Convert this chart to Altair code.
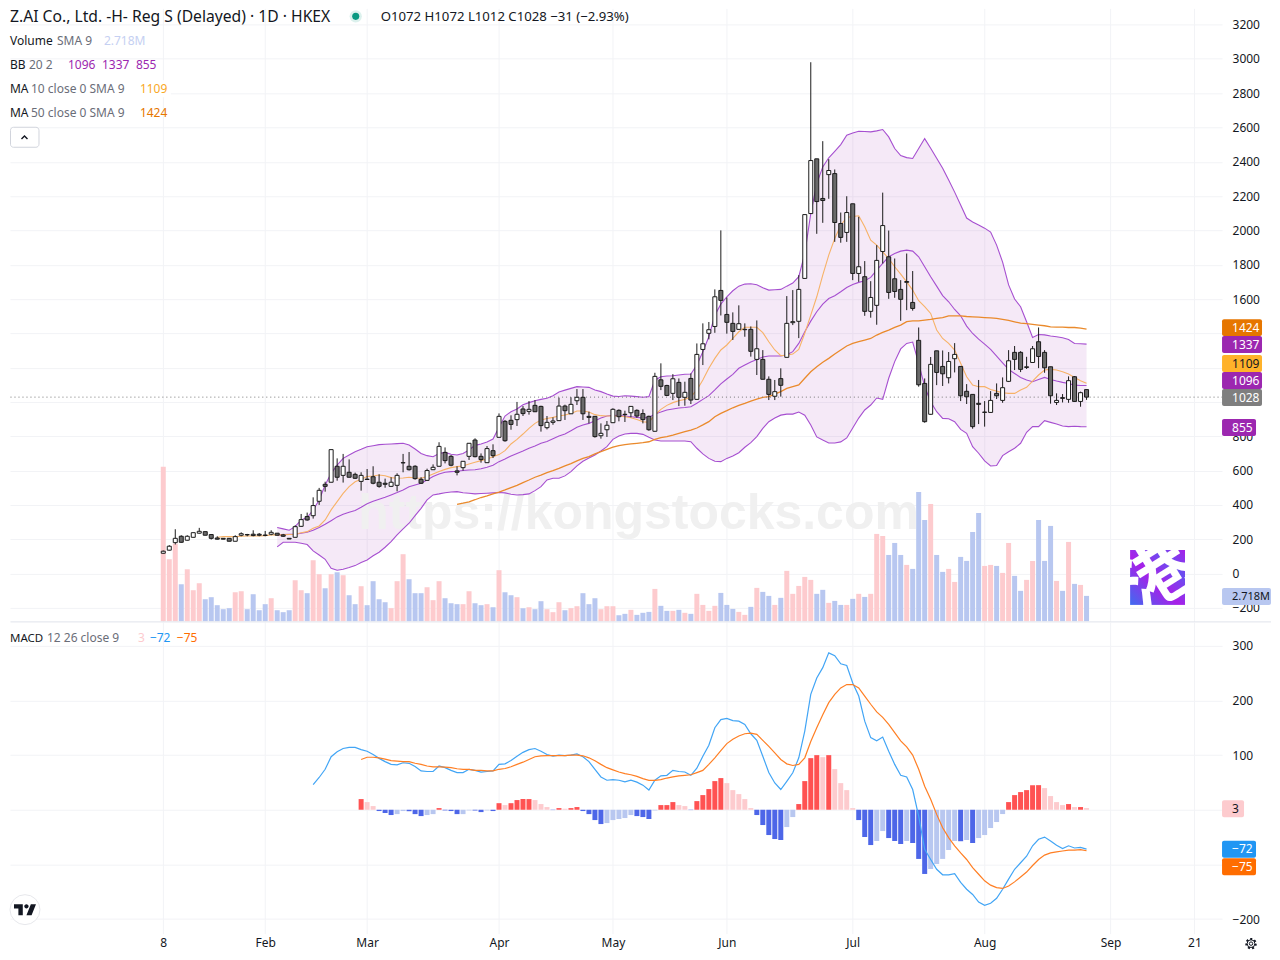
import altair as alt
import pandas as pd
from urllib.parse import quote

opens = [118,136,180,217,194,211,235,244,227,207,205,205,188,223,227,229,229,224,229,235,225,205,211,275,332,337,421,520,532,625,572,590,578,537,550,564,532,526,508,514,645,625,625,549,543,605,625,706,683,598,617,683,778,683,646,716,794,887,893,897,959,945,980,974,850,881,891,976,931,1007,1027,916,916,803,838,879,951,928,937,951,932,916,829,1129,1096,1050,1114,1027,1137,1015,1306,1400,1440,1650,1510,1458,1423,1421,1423,1248,1248,1132,1033,1136,1260,1462,1470,1720,2098,2417,2186,2325,2331,2040,1988,2155,1749,1730,1528,1563,1877,1846,1718,1656,1697,1580,1359,1108,928,1298,1207,1141,1252,1207,1062,1044,992,939,939,1050,1009,1120,1289,1289,1201,1230,1351,1289,1205,997,1025,1015,1147,1003,1072]
highs = [134,165,258,223,223,238,266,244,229,217,205,205,223,240,231,252,236,248,252,235,231,205,281,347,355,444,499,535,722,671,697,665,588,590,609,625,578,553,561,584,697,708,631,561,611,636,765,735,691,625,654,759,788,700,743,753,933,895,922,1000,976,1005,1011,978,918,910,1025,984,1027,1075,1075,943,918,875,889,963,957,949,974,957,957,920,1170,1225,1100,1162,1137,1118,1166,1341,1458,1466,1656,2000,1609,1522,1563,1458,1440,1475,1302,1149,1128,1196,1617,1652,1739,2092,2980,2417,2520,2415,2355,2104,2199,2155,2079,1821,1704,1914,2220,1999,1836,1710,1865,1763,1434,1137,1262,1298,1300,1291,1343,1207,1104,1044,1128,1005,1063,1108,1143,1302,1326,1296,1263,1326,1434,1302,1205,1050,1046,1149,1151,1060,1072]
lows = [116,134,169,180,192,211,233,223,198,198,200,188,188,217,217,217,217,217,223,223,213,201,211,271,308,320,400,477,532,541,530,561,551,483,548,520,500,500,504,479,590,600,547,522,541,603,623,642,625,572,600,662,677,646,644,673,792,768,838,860,918,926,941,827,840,867,889,895,930,982,895,875,792,786,796,877,887,883,910,908,875,832,827,1069,1034,1011,976,978,988,1013,1215,1365,1403,1504,1398,1361,1423,1380,1264,1157,1132,1011,1011,1031,1260,1448,1372,1720,2098,1980,2044,2184,1933,1928,1933,1710,1700,1502,1491,1450,1807,1601,1607,1473,1535,1532,1089,879,926,1098,1093,1108,1172,1005,988,844,871,856,939,1017,995,1116,1186,1174,1192,1228,1197,1170,990,982,997,995,1001,972,1012]
closes = [130,159,205,182,217,238,246,223,205,200,200,188,215,232,225,221,223,222,240,223,217,201,273,314,312,396,485,508,722,561,625,561,555,572,548,526,508,520,532,572,646,605,553,526,600,619,741,658,631,590,654,759,681,664,728,687,916,774,869,928,932,957,943,862,881,889,976,949,986,1027,931,910,798,817,864,957,914,926,974,918,897,838,1149,1091,1038,1135,1027,1056,1011,1277,1339,1421,1613,1592,1464,1411,1456,1423,1295,1310,1132,1044,1060,1097,1458,1468,1656,2092,2407,2168,2174,2349,2046,1959,2104,1749,1788,1528,1609,1825,2028,1638,1644,1598,1702,1545,1100,885,1219,1172,1164,1236,1277,1036,1030,856,986,941,1009,1036,1083,1240,1248,1190,1205,1310,1265,1199,1036,1009,1021,1124,1003,1054,1028]
volumes = [16.6,6.66,8.34,3.97,5.58,3.33,4.08,2.36,2.58,1.72,1.29,1.40,3.11,3.22,1.29,2.90,1.18,1.83,2.47,1.18,0.97,1.18,4.40,3.33,3.01,6.55,5.05,3.54,5.05,5.26,4.94,2.79,1.83,3.76,1.72,4.30,2.36,2.04,1.40,4.30,7.20,4.51,3.01,3.01,3.65,2.26,4.30,2.47,1.93,1.83,1.83,3.22,1.93,1.72,1.83,1.50,5.48,3.11,2.79,2.58,1.40,1.50,1.29,2.15,1.29,0.97,2.04,1.18,1.40,1.61,3.01,1.83,2.47,1.29,1.61,1.61,0.64,0.79,1.22,0.68,0.90,1.00,3.47,1.65,1.11,1.11,1.22,0.90,0.79,2.94,1.75,1.11,1.65,3.04,1.75,1.32,1.00,0.68,1.54,3.58,3.15,2.72,1.75,2.51,5.41,2.94,3.79,4.76,4.44,2.94,3.37,1.97,2.18,1.75,1.75,2.40,2.94,2.61,2.94,9.38,9.16,7.12,8.41,7.12,6.05,5.62,13.89,10.88,12.60,7.12,5.30,5.62,4.22,6.91,6.48,9.59,11.63,5.94,6.05,5.94,5.19,8.41,4.87,3.26,4.44,6.48,10.88,6.48,10.24,4.33,3.26,8.52,4.01,3.90,2.72]

bb_start = 19
bb_upper = [268,260,252,273,312,326,370,429,516,584,632,671,691,710,724,739,745,751,753,755,757,759,749,726,700,687,681,700,706,695,691,700,720,747,755,767,784,852,918,943,959,984,996,1007,1015,1021,1036,1058,1069,1079,1089,1087,1085,1069,1060,1046,1034,1032,1036,1034,1031,1027,1031,1127,1147,1151,1153,1157,1161,1163,1215,1293,1380,1506,1570,1613,1648,1675,1687,1689,1683,1666,1652,1654,1656,1675,1693,1730,1865,2098,2273,2370,2423,2461,2500,2555,2568,2578,2576,2574,2580,2588,2545,2477,2436,2424,2419,2477,2535,2479,2420,2362,2293,2223,2148,2072,2049,2031,2013,1990,1914,1815,1682,1600,1555,1467,1376,1393,1391,1384,1380,1374,1364,1341,1339,1337]
bb_basis = [225,227,229,229,235,240,252,268,287,308,330,345,357,367,386,407,421,433,444,458,472,487,506,516,526,545,565,580,590,594,596,600,603,605,611,619,631,652,668,685,700,714,730,743,759,770,786,801,813,832,852,866,875,891,906,918,922,920,918,914,910,906,910,930,941,953,959,965,968,972,992,1015,1037,1070,1105,1134,1161,1196,1215,1233,1248,1262,1268,1268,1268,1275,1293,1341,1409,1471,1526,1570,1603,1619,1642,1667,1685,1697,1706,1726,1768,1807,1846,1865,1879,1885,1879,1846,1788,1730,1675,1620,1584,1539,1502,1442,1399,1366,1337,1306,1267,1228,1190,1166,1143,1128,1118,1131,1143,1131,1122,1114,1108,1098,1096,1096]
bb_lower = [155,182,182,182,176,169,132,108,83,31,19,25,35,46,64,79,103,124,153,186,225,260,293,337,380,429,458,464,471,475,477,471,468,464,466,468,470,472,470,462,458,460,464,483,506,545,555,555,569,594,627,654,673,691,714,739,782,801,813,817,817,811,794,778,772,772,772,772,772,768,730,697,671,654,652,671,685,704,736,763,798,846,885,906,923,929,929,941,923,866,796,778,761,761,767,790,848,906,953,982,1023,1015,1138,1235,1309,1341,1349,1225,1089,1001,943,904,902,885,840,817,739,701,656,627,629,687,710,730,759,823,856,856,891,881,871,860,856,858,856,855]
ma10_start = 9
ma10 = [211,215,215,215,217,219,219,219,221,225,225,225,227,229,238,244,264,277,312,371,419,467,506,535,549,565,568,574,570,559,555,557,561,557,555,565,580,594,607,617,623,627,638,648,658,668,681,693,716,755,782,813,846,875,895,904,910,918,924,933,947,947,941,926,920,918,918,918,914,908,898,885,881,924,957,980,996,1007,1015,1030,1070,1128,1196,1254,1303,1332,1371,1409,1435,1435,1435,1404,1351,1303,1270,1272,1279,1306,1400,1506,1613,1739,1856,1953,2030,2075,2081,2085,2021,1943,1914,1875,1836,1788,1745,1700,1652,1590,1555,1516,1419,1370,1341,1302,1225,1147,1098,1089,1089,1073,1063,1054,1050,1050,1069,1085,1122,1157,1186,1190,1186,1176,1163,1143,1124,1109]
ma50_start = 49
ma50 = [403,410,418,430,443,453,464,475,487,501,514,530,545,561,574,588,600,613,627,640,656,671,681,697,710,724,736,745,751,755,759,763,768,782,792,798,807,817,827,836,848,866,885,914,933,949,966,980,992,1005,1017,1027,1031,1046,1060,1079,1089,1099,1138,1176,1205,1231,1254,1279,1303,1326,1341,1351,1361,1370,1390,1405,1419,1435,1448,1468,1473,1473,1477,1481,1487,1492,1502,1502,1502,1498,1496,1494,1492,1490,1487,1481,1475,1467,1459,1456,1452,1448,1444,1438,1436,1436,1434,1434,1430,1424]

macd_start = 25
macd_line = [46,59,74,97,106,112,114,114,110,107,101,94,88,83,82,86,85,79,71,70,70,80,77,72,68,68,74,72,69,70,71,83,84,90,98,105,110,112,107,101,98,100,99,100,102,97,88,74,60,54,55,54,51,54,50.5,45,36,54,62,63,72,70,69,63,76,98,118,150,165,167,163,162,156,139,127,98,68,49,37,52,67.6,95,144,211,241,260,287,282,267,264,232,208,162,132,126,133,107,83,63,60,37,-11.6,-72.5,-91,-109,-119,-119,-117,-133,-145.5,-155,-169,-175,-171,-162,-145.5,-127,-109,-97,-85,-66,-54,-50,-57,-65,-71,-66,-70,-69,-72]
signal_start = 33
signal_line = [92,96,96,95,92.6,90,89,88,88,85,83,80,78.6,78.6,78,77,75,74,74,72,72,71,71,74,75.5,78.6,83,87,92,97,98.7,99,99,99,99,100,100,98.7,95,89.5,83,77,73,69,66,64,61,57,53.6,53.6,55,58,60,62,63,64,68,72,83,95,108,121,129,135,139,140,138,127,116,104,92,84,81,83,95,125,150,174,196,211,223,229,229,223,208,193,179,169,156,141,126,115,100,74,43,19,-8.5,-33,-51,-66,-79,-91,-106,-118,-130,-138,-142.5,-144,-139.5,-132,-123,-114,-102,-91,-83,-79,-77,-75.5,-74,-74,-73,-75]
hist_start = 33
histogram = [19.5,14,6.7,-2.4,-6,-9.7,-8,-2.4,-2.7,-8,-11.6,-9.7,-8,3,-1.2,-2.4,-8,-8,-1.2,-1.4,-4.3,-1.2,-2.4,12,8.5,12,17.7,19.5,19.5,17.7,10.4,4.9,-0.6,3,1.8,3,4.9,-2.4,-8,-18.9,-26.2,-24.4,-18.9,-17,-15.2,-9.7,-11.6,-13.4,-17,-1.2,8.5,8.5,14,8.5,6.7,-0.6,15.8,26.8,37.8,52.4,57.9,48.7,35.9,28.6,19.5,3,-9.7,-28,-46.3,-53.6,-55.4,-31.7,-13.4,10.4,52.4,94.4,99.9,96.2,99.9,74.3,48.7,35.9,3,-18.9,-49.9,-64.6,-57.2,-39,-51.8,-57.2,-62.7,-57.2,-60.9,-90,-117.5,-108.4,-99.3,-90,-73.7,-57.2,-57.6,-55.4,-60.9,-51.8,-46.3,-33.5,-22.5,-7.9,14,26.8,32.3,35.9,45,45,39.6,25,14,8.5,10.4,4.9,4.9,3]

time_ticks = [0,17,34,56,75,94,115,137,158,172]
time_labels = ["8","Feb","Mar","Apr","May","Jun","Jul","Aug","Sep","21"]
price_ticks = list(range(-200, 3400, 200))
hidden_price_ticks = [1000, 1200, 1400]
macd_ticks = [-200,-100,0,100,200,300]
hidden_macd_ticks = [-100, 0]

PW, TOP_H, BOT_H = 1213, 614, 312
xdom = [-25.567, 176.6]
ydom = [-282, 3294]
mdom = [-226.7, 343.7]
voldom = [-0.075, 65.87]
FONT = "Noto Sans"
GRID = "#f2f3f6"
INK = "#131722"
DIM = "#6a6d78"
PURPLE = "#9c27b0"

df = pd.DataFrame({"i": range(len(opens)), "o": opens, "h": highs, "l": lows, "c": closes, "v": volumes})
df["top"] = df[["o", "c"]].max(axis=1)
df["bot"] = df[["o", "c"]].min(axis=1)
df["state"] = ["up" if c >= o else "down" for o, c in zip(opens, closes)]

xs = alt.Scale(domain=xdom, nice=False, zero=False, padding=0)
ys = alt.Scale(domain=ydom, nice=False, zero=False)
Y = lambda f: alt.Y(f, scale=ys, axis=None)
ONE = pd.DataFrame({"a": [0]})

def series(start, vals, name="y"):
    return pd.DataFrame({"i": range(start, start + len(vals)), name: vals})

def label(s, px, py, color=INK, size=12, off=8, weight="normal", font=FONT):
    return alt.Chart(ONE).mark_text(text=s, align="left", baseline="alphabetic", font=font, fontSize=size,
                                    color=color, fontWeight=weight).encode(x=alt.value(px - 9), y=alt.value(py - off + size * 0.35))

def box(x0, x1, y0, y1, color, off=8, radius=2, stroke=None):
    kw = {"stroke": stroke, "strokeWidth": 1} if stroke else {}
    return alt.Chart(ONE).mark_rect(color=color, cornerRadius=radius, **kw).encode(
        x=alt.value(x0 - 9), x2=alt.value(x1 - 9), y=alt.value(y0 - off), y2=alt.value(y1 - off))

def tag(text, yc, x1, fill, ink="white", off=8, size=12):
    return [box(1222, x1, yc - 8.5, yc + 8.5, fill, off=off), label(text, 1232, yc, ink, size, off=off)]

def value_expr(hidden):
    return "indexof([" + ",".join(map(str, hidden)) + "],datum.value)>=0?'':replace(format(datum.value,'d'),'-','\u2212')"

# ---- top pane
xaxis_top = alt.Axis(values=time_ticks, labels=False, ticks=False, domain=False, grid=True, gridColor=GRID, title=None)
yaxis_top = alt.Axis(values=price_ticks, orient="right", labelFont=FONT, labelFontSize=12, labelColor=INK, labelPadding=10,
                     labelAlign="left", labelExpr=value_expr(hidden_price_ticks), ticks=False, domain=False, grid=True, gridColor=GRID, title=None)
X = alt.X("i:Q", scale=xs, axis=xaxis_top)

def line(start, vals, color, width=1.1):
    return alt.Chart(series(start, vals)).mark_line(color=color, strokeWidth=width).encode(x=X, y=Y("y:Q"))

band_df = series(bb_start, bb_upper, "u").assign(l=bb_lower)
band = alt.Chart(band_df).mark_area(color=PURPLE, opacity=0.1).encode(
    x=X, y=alt.Y("u:Q", scale=ys, axis=yaxis_top), y2="l:Q")

watermark = alt.Chart(ONE).mark_text(text="https://kongstocks.com", font="Liberation Sans", fontWeight="bold", fontSize=50,
                                     color="#f0f0f0", align="center", baseline="middle").encode(x=alt.value(629), y=alt.value(506))

vol = alt.Chart(df).mark_bar(size=5, orient="vertical").encode(
    x=X, y=alt.Y("v:Q", scale=alt.Scale(domain=voldom, nice=False, zero=False), axis=None), y2=alt.datum(0),
    color=alt.Color("state:N", scale=alt.Scale(domain=["up", "down"], range=["#fdcbce", "#b8c7f0"]), legend=None))

wick = alt.Chart(df).mark_rule(color="#1a1a1a", strokeWidth=1).encode(x=X, y=Y("h:Q"), y2="l:Q")
body = alt.Chart(df).mark_bar(size=4, orient="vertical", stroke="#1a1a1a", strokeWidth=1).encode(
    x=X, y=Y("top:Q"), y2="bot:Q",
    fill=alt.Fill("state:N", scale=alt.Scale(domain=["up", "down"], range=["#ffffff", "#6a6a6a"]), legend=None))

last_line = alt.Chart(pd.DataFrame({"c": [closes[-1]]})).mark_rule(color="#777777", strokeDash=[1, 3], strokeWidth=1).encode(
    y=Y("c:Q"), x=alt.value(0.5), x2=alt.value(PW))

logo_svg = ('<svg xmlns="http://www.w3.org/2000/svg" width="55" height="55" viewBox="0 0 55 55">'
            '<defs><linearGradient id="g" x1="0" y1="1" x2="1" y2="0"><stop offset="0" stop-color="#3f6cf0"/>'
            '<stop offset=".45" stop-color="#a81fe8"/><stop offset=".75" stop-color="#6a4ff0"/><stop offset="1" stop-color="#a81fe8"/></linearGradient></defs>'
            '<rect width="55" height="55" fill="url(#g)"/>'
            '<text x="27" y="50" font-family="Noto Sans CJK SC" font-weight="700" font-size="68" text-anchor="middle" fill="white" '
            'transform="rotate(-32 27 27)">\u6e2f</text></svg>')
logo = alt.Chart(ONE).mark_image(url="data:image/svg+xml;charset=utf-8," + quote(logo_svg), width=55, height=55,
                                 align="left", baseline="top").encode(x=alt.value(1121), y=alt.value(542))

status_halo = alt.Chart(ONE).mark_point(shape="circle", size=150, filled=True, color="#089981", opacity=0.14, strokeWidth=0).encode(x=alt.value(346), y=alt.value(8))
status_dot = alt.Chart(ONE).mark_point(shape="circle", size=50, filled=True, color="#089981", opacity=1, strokeWidth=0).encode(x=alt.value(346), y=alt.value(8))
chevron = alt.Chart(ONE).mark_point(shape="M-1,0.55L0,-0.45L1,0.55", size=36, filled=False, color=INK, strokeWidth=1.4, opacity=1).encode(x=alt.value(14.5), y=alt.value(129))

head = [
    label("Z.AI Co., Ltd. -H- Reg S (Delayed) \u00b7 1D \u00b7 HKEX", 9, 16.3, INK, 15.7),
    label("O1072  H1072  L1012  C1028  \u221231 (\u22122.93%)", 380, 16, INK, 13.2),
    label("Volume", 9, 40), label("SMA 9", 56, 40, DIM, 12), label("2.718M", 103, 40, "#c5d0f2", 12),
    label("BB", 9, 64), label("20 2", 28, 64, DIM, 12), label("1096", 67, 64, PURPLE, 12), label("1337", 101, 64, PURPLE, 12), label("855", 135, 64, PURPLE, 12),
    box(9, 170, 80, 97, "white", radius=0),
    label("MA", 9, 88), label("10 close 0 SMA 9", 30, 88, DIM, 12), label("1109", 139, 88, "#f9a825", 12),
    label("MA", 9, 112.5), label("50 close 0 SMA 9", 30, 112.5, DIM, 12), label("1424", 139, 112.5, "#e67600", 12),
    box(9.5, 38, 127, 147, "white", radius=3, stroke="#d1d4dc"),
    chevron,
]
tags_top = (tag("1424", 327.5, 1262, "#e67600") + tag("1337", 344.5, 1262, PURPLE) + tag("1109", 363.5, 1262, "#ffb22a", INK)
            + tag("1096", 380.5, 1262, PURPLE) + tag("1028", 397.5, 1262, "#7f7f7f") + tag("855", 427.5, 1256, PURPLE)
            + tag("2.718M", 596.5, 1271, "#b8c7f0", INK, size=11))
divider = alt.Chart(ONE).mark_rule(color="#e0e3eb", strokeWidth=1).encode(x=alt.value(0.5), x2=alt.value(1262), y=alt.value(TOP_H))

top = alt.layer(
    band, watermark, vol,
    line(bb_start, bb_basis, "#a64fd0"), line(bb_start, bb_upper, "#a64fd0"), line(bb_start, bb_lower, "#a64fd0"),
    line(ma10_start, ma10, "#f7b267"), line(ma50_start, ma50, "#ea8a2c", 1.3),
    last_line, wick, body, logo, status_halo, status_dot, *head, *tags_top, divider,
).resolve_scale(y="independent", color="independent", fill="independent").properties(width=PW, height=TOP_H, view=alt.ViewConfig(stroke=None))

# ---- MACD pane
tick_expr = "[" + ",".join(f"'{s}'" for s in time_labels) + "][indexof([" + ",".join(map(str, time_ticks)) + "],datum.value)]"
xaxis_bot = alt.Axis(values=time_ticks, labelExpr=tick_expr, labelFont=FONT, labelFontSize=12, labelColor=INK, labelPadding=4,
                     labelOverlap=False, labelFlush=False, ticks=False, domain=False, grid=True, gridColor=GRID, title=None)
yaxis_bot = alt.Axis(values=macd_ticks, orient="right", labelFont=FONT, labelFontSize=12, labelColor=INK, labelPadding=10,
                     labelAlign="left", labelExpr=value_expr(hidden_macd_ticks), ticks=False, domain=False, grid=True, gridColor=GRID, title=None)
ms = alt.Scale(domain=mdom, nice=False, zero=False)
XB = alt.X("i:Q", scale=xs, axis=xaxis_bot)
YB = lambda f: alt.Y(f, scale=ms, axis=yaxis_bot)

hist_df = series(hist_start, histogram, "m")
prev = [None] + histogram[:-1]
def shade(v, p):
    if v >= 0:
        return "rise+" if p is None or v >= p else "fall+"
    return "fall-" if p is not None and v < p else "rise-"
hist_df["shade"] = [shade(v, p) for v, p in zip(histogram, prev)]
hist = alt.Chart(hist_df).mark_bar(size=5, orient="vertical").encode(
    x=XB, y=YB("m:Q"), y2=alt.datum(0),
    color=alt.Color("shade:N", scale=alt.Scale(domain=["rise+", "fall+", "rise-", "fall-"],
                    range=["#ff5252", "#fdcbce", "#b8c7f0", "#4d66e8"]), legend=None))
macd_l = alt.Chart(series(macd_start, macd_line)).mark_line(color="#42a5f5", strokeWidth=1.2).encode(x=XB, y=YB("y:Q"))
sig_l = alt.Chart(series(signal_start, signal_line)).mark_line(color="#ff7f24", strokeWidth=1.2).encode(x=XB, y=YB("y:Q"))

OFF = 622
head2 = [label("MACD", 9, 638, off=OFF, size=11.5), label("12 26 close 9", 46, 638, DIM, 12, off=OFF), label("3", 137, 638, "#fdcbce", 12, off=OFF),
         label("\u221272", 149, 638, "#2196f3", 12, off=OFF), label("\u221275", 176, 638, "#ff6d00", 12, off=OFF)]
tags_bot = tag("3", 809, 1244, "#fdcbce", INK, off=OFF) + tag("\u221272", 849.5, 1256, "#2196f3", off=OFF) + tag("\u221275", 867, 1256, "#ff6d00", off=OFF)

tv_path = ("M-.2 -.5L-1 -.5L-1 -.1L-.6 -.1L-.6 .5L-.2 .5Z"
           "M.6 .5L.133 .5L.533 -.5L1 -.5Z"
           "M.133 -.1A.2 .2 0 1 0 .133 -.5A.2 .2 0 1 0 .133 -.1Z")
tv_bg = alt.Chart(ONE).mark_point(shape="circle", size=900, filled=True, fill="white", stroke="#e6e7eb", strokeWidth=1, opacity=1).encode(x=alt.value(15), y=alt.value(288))
tv = alt.Chart(ONE).mark_point(shape=tv_path, size=484, filled=True, color="#131722", opacity=1).encode(x=alt.value(15), y=alt.value(288))
GX, GY = 1242, 322
gear_o = alt.Chart(ONE).mark_point(shape="circle", size=90, filled=False, color=INK, strokeWidth=2, strokeDash=[2, 2.2], opacity=1).encode(x=alt.value(GX), y=alt.value(GY))
gear_m = alt.Chart(ONE).mark_point(shape="circle", size=60, filled=False, color=INK, strokeWidth=1, opacity=1).encode(x=alt.value(GX), y=alt.value(GY))
gear_i = alt.Chart(ONE).mark_point(shape="circle", size=12, filled=False, color=INK, strokeWidth=1, opacity=1).encode(x=alt.value(GX), y=alt.value(GY))

bottom = alt.layer(hist, macd_l, sig_l, *head2, *tags_bot, tv_bg, tv, gear_o, gear_m, gear_i).properties(
    width=PW, height=BOT_H, view=alt.ViewConfig(stroke=None))

chart = alt.vconcat(top, bottom, spacing=0, bounds="flush").properties(padding=0).configure_view(stroke=None)
chart.save("out.html", embed_options={"renderer": "svg", "actions": False})
